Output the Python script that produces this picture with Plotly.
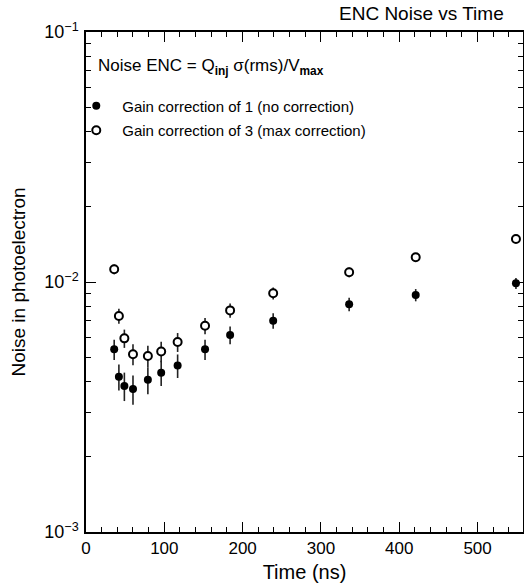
import plotly.graph_objects as go

time_ns = [36, 42, 49, 60, 79, 96, 117, 152, 184, 239, 336, 421, 549]
noise_gain1 = [0.00538, 0.00418, 0.00384, 0.00373, 0.00406, 0.00434, 0.00463,
               0.00538, 0.00614, 0.00700, 0.00814, 0.00887, 0.00988]
noise_gain3 = [0.01124, 0.00731, 0.00595, 0.00514, 0.00506, 0.00527, 0.00575,
               0.00668, 0.00770, 0.00901, 0.01094, 0.01256, 0.01486]
err_gain1 = [0.0005] * 13
err_gain3 = [0.0005] * 13

y_tickvals = [0.001, 0.01, 0.1]
y_ticktext = ["10<sup>−3</sup>", "10<sup>−2</sup>", "10<sup>−1</sup>"]
x_tickvals = [0, 100, 200, 300, 400, 500]

FONT = "Liberation Sans"

fig = go.Figure()
fig.add_trace(go.Scatter(
    x=time_ns, y=noise_gain1, mode="markers",
    name="Gain correction of 1 (no correction)",
    marker=dict(symbol="circle", size=8, color="black"),
    error_y=dict(type="data", array=err_gain1, color="#222", thickness=1.6, width=0),
    legendgroup="a",
))
fig.add_trace(go.Scatter(
    x=time_ns, y=noise_gain3, mode="markers",
    name="Gain correction of 3 (max correction)",
    marker=dict(symbol="circle", size=8, color="white", line=dict(color="black", width=2)),
    error_y=dict(type="data", array=err_gain3, color="#222", thickness=1.6, width=0),
    legendgroup="b",
))

minor_y = [m * 10 ** e for e in (-3, -2) for m in range(2, 10)]

fig.update_layout(
    width=524, height=584,
    margin=dict(l=86, r=1, t=32, b=52, autoexpand=False),
    paper_bgcolor="white", plot_bgcolor="white",
    font=dict(family=FONT, color="black", size=15),
    showlegend=True,
    legend=dict(x=-0.036, y=0.885, xanchor="left", yanchor="top",
                bgcolor="rgba(0,0,0,0)", font=dict(size=15, family=FONT),
                tracegroupgap=2, itemwidth=42),
    xaxis=dict(
        range=[0, 558], showline=True, linecolor="black", linewidth=1.5, mirror="allticks",
        ticks="inside", ticklen=10, tickcolor="black", tickwidth=1,
        tickvals=x_tickvals, showgrid=False, zeroline=False, automargin=False,
        tickfont=dict(size=17),
        minor=dict(ticks="inside", ticklen=5, tickcolor="black", dtick=20),
        title=dict(text="Time (ns)", font=dict(size=20), standoff=8),
    ),
    yaxis=dict(
        type="log", range=[-3, -1], showline=True, linecolor="black", linewidth=1.5,
        mirror="allticks", ticks="inside", ticklen=10, tickcolor="black", tickwidth=1,
        tickvals=y_tickvals, ticktext=y_ticktext, showgrid=False, zeroline=False,
        tickfont=dict(size=18), ticklabelstandoff=2, automargin=False,
        minor=dict(ticks="inside", ticklen=5, tickcolor="black", tickvals=minor_y),
        title=dict(text="Noise in photoelectron", font=dict(size=19), standoff=14),
    ),
    annotations=[
        dict(text="ENC Noise vs Time", xref="paper", yref="paper", x=0.962, y=1.0,
             xanchor="right", yanchor="bottom", showarrow=False, font=dict(size=19), yshift=6),
        dict(text="Noise ENC = Q<sub><b>inj</b></sub> σ(rms)/V<sub><b>max</b></sub>",
             xref="paper", yref="paper", x=0.022, y=0.93, xanchor="left", yanchor="middle",
             showarrow=False, font=dict(size=17)),
    ],
)

fig.write_html("out.html")
